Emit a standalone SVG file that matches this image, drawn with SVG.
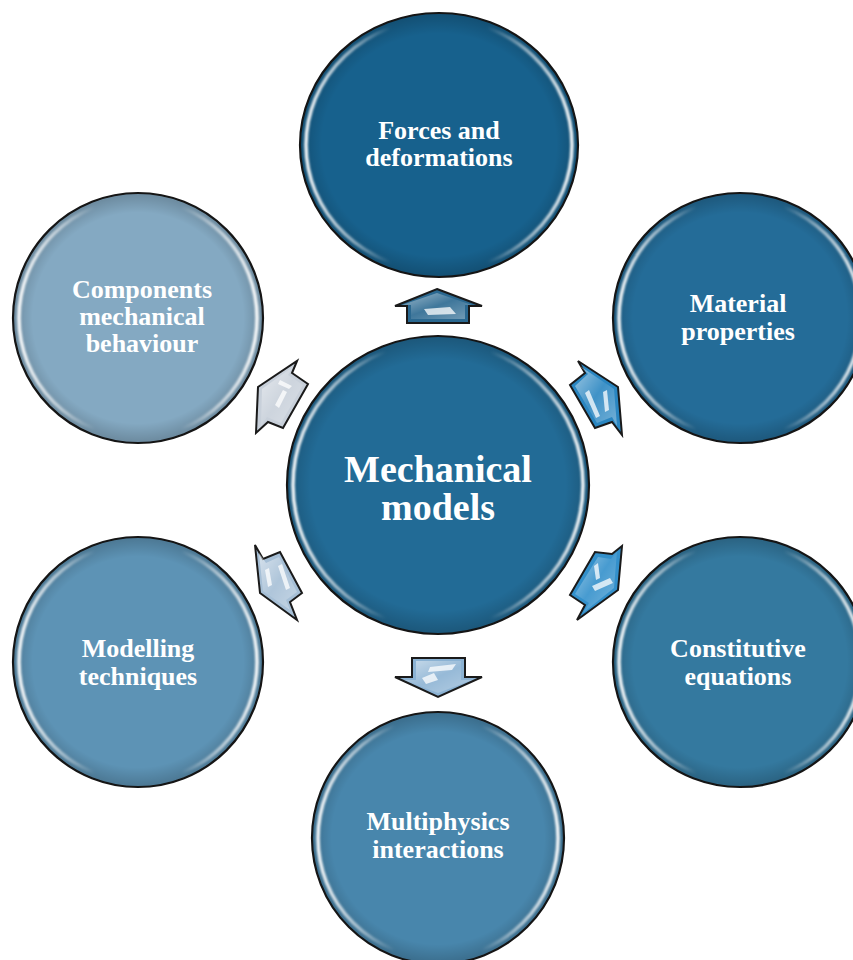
<svg xmlns="http://www.w3.org/2000/svg" width="853" height="960" viewBox="0 0 853 960">
<defs>
<linearGradient id="rim" x1="0" y1="0" x2="1" y2="0">
<stop offset="0" stop-color="#fff" stop-opacity="0.95"/>
<stop offset="0.18" stop-color="#fff" stop-opacity="0.5"/>
<stop offset="0.32" stop-color="#fff" stop-opacity="0"/>
<stop offset="0.68" stop-color="#fff" stop-opacity="0"/>
<stop offset="0.82" stop-color="#fff" stop-opacity="0.5"/>
<stop offset="1" stop-color="#fff" stop-opacity="0.95"/>
</linearGradient>
<radialGradient id="shade" cx="0.5" cy="0.5" r="0.5">
<stop offset="0.85" stop-color="#000" stop-opacity="0"/>
<stop offset="1" stop-color="#000" stop-opacity="0.18"/>
</radialGradient>
<filter id="soft" x="-5%" y="-5%" width="110%" height="110%">
<feGaussianBlur stdDeviation="1.2"/>
</filter>
<linearGradient id="ashine" x1="0" y1="0" x2="1" y2="1">
<stop offset="0" stop-color="#fff" stop-opacity="0.55"/>
<stop offset="0.5" stop-color="#fff" stop-opacity="0.1"/>
<stop offset="1" stop-color="#fff" stop-opacity="0.35"/>
</linearGradient>
</defs>
<style>
.c{stroke:#151515;stroke-width:2.2}
.rim{fill:none;stroke:url(#rim);stroke-width:3.5;filter:url(#soft)}
.sh{fill:url(#shade)}
.t{font-family:"Liberation Serif","Times New Roman",serif;font-weight:bold;fill:#fff;text-anchor:middle;font-size:26px}
.big{font-size:38px}
.a{stroke:#1a1a1a;stroke-width:2;stroke-linejoin:miter}
.hl{fill:#fff;fill-opacity:0.75}
</style>
<rect width="853" height="960" fill="#fff"/>

<g id="connectors">
<g id="arrow-top">
<polygon class="a" fill="#2a6890" points="437,289 482,306 469,306 469,323 407,323 407,306 395,306"/>
<polygon fill="url(#ashine)" points="437,293 472,305 465,305 465,319 411,319 411,305 402,305"/>
<polygon class="hl" points="424,309 450,307 456,314 428,315"/>
</g>
<g id="arrow-top-right">
<polygon class="a" fill="#2a86c1" points="578,361 585,373 570,385 595,428 612,422 622,435 618,387"/>
<polygon fill="url(#ashine)" points="580,366 588,374 575,386 597,423 612,417 617,426 614,389"/>
<polygon class="hl" points="585,393 589,390 600,416 596,418"/>
<polygon class="hl" points="603,392 607,390 609,410 605,412"/>
</g>
<g id="arrow-bottom-right">
<polygon class="a" fill="#3390cb" points="622,546 612,554 595,552 570,595 585,605 577,620 618,590"/>
<polygon fill="url(#ashine)" points="617,551 611,559 598,557 575,594 589,603 583,613 614,588"/>
<polygon class="hl" points="592,586 610,578 613,583 595,591"/>
<polygon class="hl" points="594,566 598,563 600,578 596,580"/>
</g>
<g id="arrow-bottom">
<polygon class="a" fill="#8bb2d3" points="412,658 465,658 465,677 482,677 438,697 395,677 412,677"/>
<polygon fill="url(#ashine)" points="416,661 461,661 461,680 472,680 438,693 404,680 416,680"/>
<polygon class="hl" points="430,667 456,664 452,670 428,672"/>
<polygon class="hl" points="422,678 434,673 438,680 426,684"/>
</g>
<g id="arrow-bottom-left">
<polygon class="a" fill="#a6bfd6" points="255,545 263,559 280,552 302,593 290,602 297,620 260,593"/>
<polygon fill="url(#ashine)" points="259,553 266,563 279,557 297,592 286,600 290,610 263,591"/>
<polygon class="hl" points="265,570 269,568 272,585 268,587"/>
<polygon class="hl" points="278,566 282,564 290,588 286,590"/>
</g>
<g id="arrow-top-left">
<polygon class="a" fill="#c8d0da" points="297,361 292,373 308,384 283,428 268,422 256,433 258,387"/>
<polygon fill="url(#ashine)" points="294,366 288,375 303,385 281,423 267,417 261,426 262,389"/>
<polygon class="hl" points="275,405 283,390 287,392 279,408"/>
<polygon class="hl" points="280,380 292,386 289,389 278,384"/>
</g>
</g>

<g id="node-forces">
<ellipse class="c" cx="439" cy="145" rx="139" ry="132" fill="#17618d"/>
<ellipse class="sh" cx="439" cy="145" rx="138" ry="131"/>
<ellipse class="rim" cx="439" cy="145" rx="133" ry="126"/>
<text class="t" x="439" y="139">Forces and</text>
<text class="t" x="439" y="166">deformations</text>
</g>

<g id="node-material">
<ellipse class="c" cx="740" cy="318" rx="127" ry="125" fill="#246c98"/>
<ellipse class="sh" cx="740" cy="318" rx="126" ry="124"/>
<ellipse class="rim" cx="740" cy="318" rx="121" ry="119"/>
<text class="t" x="738" y="312">Material</text>
<text class="t" x="738" y="340">properties</text>
</g>

<g id="node-constitutive">
<ellipse class="c" cx="740" cy="662" rx="127" ry="125" fill="#34799f"/>
<ellipse class="sh" cx="740" cy="662" rx="126" ry="124"/>
<ellipse class="rim" cx="740" cy="662" rx="121" ry="119"/>
<text class="t" x="738" y="657">Constitutive</text>
<text class="t" x="738" y="685">equations</text>
</g>

<g id="node-multiphysics">
<ellipse class="c" cx="438" cy="838" rx="126" ry="126" fill="#4886ac"/>
<ellipse class="sh" cx="438" cy="838" rx="125" ry="125"/>
<ellipse class="rim" cx="438" cy="838" rx="120" ry="120"/>
<text class="t" x="438" y="830">Multiphysics</text>
<text class="t" x="438" y="858">interactions</text>
</g>

<g id="node-modelling">
<ellipse class="c" cx="138" cy="662" rx="125" ry="125" fill="#5d93b5"/>
<ellipse class="sh" cx="138" cy="662" rx="124" ry="124"/>
<ellipse class="rim" cx="138" cy="662" rx="119" ry="119"/>
<text class="t" x="138" y="657">Modelling</text>
<text class="t" x="138" y="685">techniques</text>
</g>

<g id="node-components">
<ellipse class="c" cx="138" cy="318" rx="125" ry="125" fill="#84a9c2"/>
<ellipse class="sh" cx="138" cy="318" rx="124" ry="124"/>
<ellipse class="rim" cx="138" cy="318" rx="119" ry="119"/>
<text class="t" x="142" y="298">Components</text>
<text class="t" x="142" y="325">mechanical</text>
<text class="t" x="142" y="352">behaviour</text>
</g>

<g id="node-center">
<ellipse class="c" cx="438" cy="485" rx="151" ry="149" fill="#226b96"/>
<ellipse class="sh" cx="438" cy="485" rx="150" ry="148"/>
<ellipse class="rim" cx="438" cy="485" rx="145" ry="143"/>
<text class="t big" x="438" y="482">Mechanical</text>
<text class="t big" x="438" y="520">models</text>
</g>
</svg>
